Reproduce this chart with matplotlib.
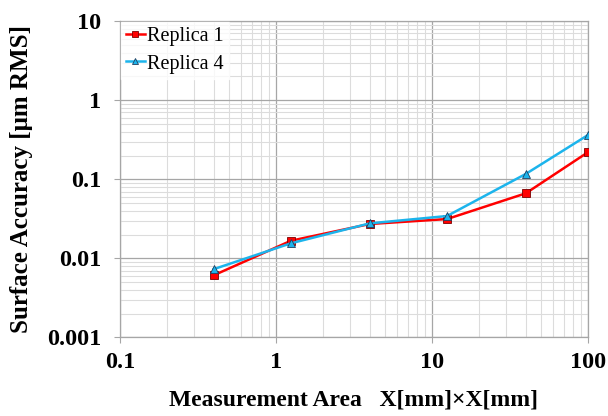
import matplotlib
matplotlib.use("Agg")
import matplotlib.pyplot as plt
from matplotlib.ticker import FixedLocator, FixedFormatter, LogLocator, NullFormatter

plt.rcParams["font.family"] = ["Liberation Serif", "DejaVu Serif"]

# data
area = [0.4, 1.25, 4, 12.5, 40, 100]
replica1 = [0.0061, 0.0167, 0.0272, 0.0314, 0.0665, 0.22]
replica4 = [0.0073, 0.0155, 0.0277, 0.0343, 0.117, 0.363]

x_ticks = [0.1, 1, 10, 100]
x_labels = ["0.1", "1", "10", "100"]
y_ticks = [0.001, 0.01, 0.1, 1, 10]
y_labels = ["0.001", "0.01", "0.1", "1", "10"]

fig = plt.figure(figsize=(6.08, 4.16), dpi=100)
ax = fig.add_axes([0.197, 0.189, 0.770, 0.760])

ax.plot(area, replica1, color="#ff0000", lw=1.8, marker="s", ms=5.5,
        mfc="#ff0000", mec="#7a0000", mew=0.6, label="Replica 1", zorder=3)
ax.plot(area, replica4, color="#1cb4ec", lw=1.8, marker="^", ms=6,
        mfc="#1cb4ec", mec="#1f3f5f", mew=0.6, label="Replica 4", zorder=4)

ax.set_xscale("log")
ax.set_yscale("log")
ax.set_xlim(0.1, 100)
ax.set_ylim(0.001, 10)

ax.xaxis.set_major_locator(FixedLocator(x_ticks))
ax.xaxis.set_major_formatter(FixedFormatter(x_labels))
ax.yaxis.set_major_locator(FixedLocator(y_ticks))
ax.yaxis.set_major_formatter(FixedFormatter(y_labels))
ax.xaxis.set_minor_locator(LogLocator(base=10, subs=range(2, 10)))
ax.yaxis.set_minor_locator(LogLocator(base=10, subs=range(2, 10)))
ax.xaxis.set_minor_formatter(NullFormatter())
ax.yaxis.set_minor_formatter(NullFormatter())

ax.grid(which="major", color="#a6a6a6", lw=0.9)
ax.grid(which="minor", color="#dcdcdc", lw=0.8)
ax.set_axisbelow(True)

for s in ax.spines.values():
    s.set_color("#a6a6a6")
    s.set_linewidth(0.9)

ax.tick_params(which="major", length=4.5, color="#a6a6a6", labelsize=17.5)
ax.tick_params(axis="y", pad=9)
ax.tick_params(axis="x", pad=6)
ax.tick_params(which="minor", length=0)
for lab in ax.get_xticklabels() + ax.get_yticklabels():
    lab.set_fontweight("bold")

ax.set_xlabel("Measurement Area   X[mm]\u00d7X[mm]", fontsize=17, fontweight="bold", labelpad=12)
ax.set_ylabel("Surface Accuracy [\u03bcm RMS]", fontsize=18, fontweight="bold", labelpad=10)

leg = ax.legend(loc="upper left", frameon=True, fontsize=14.5, handlelength=0.95,
                handletextpad=0.1, borderaxespad=0.05, labelspacing=0.4,
                borderpad=0.25, fancybox=False, markerscale=0.8)
leg.get_frame().set_facecolor("white")
leg.get_frame().set_edgecolor("white")

fig.savefig("out.png", dpi=100)
